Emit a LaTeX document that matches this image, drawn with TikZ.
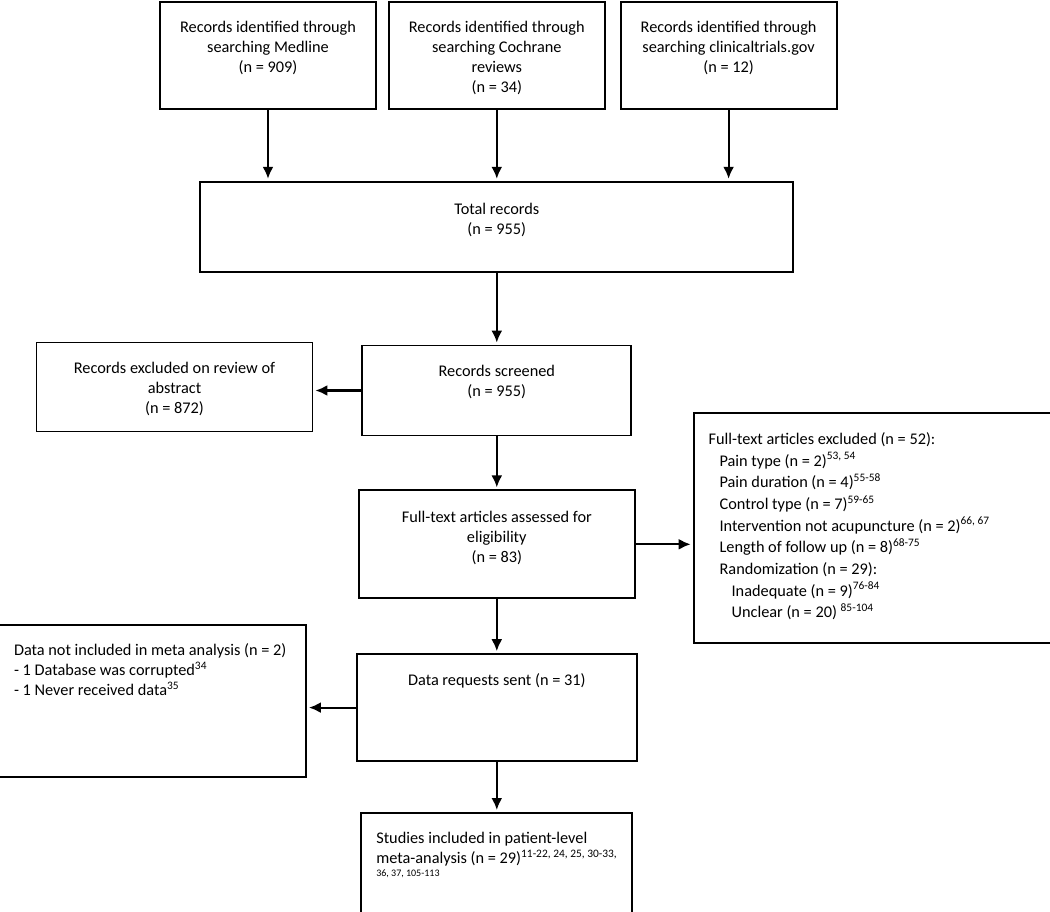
\documentclass[tikz,border=0pt]{standalone}
\usepackage{fontspec}
\setmainfont{Carlito}
\usetikzlibrary{arrows.meta, positioning}

\tikzset{
    box/.style={draw, rectangle, line width=1.8pt, inner xsep=15pt, inner ysep=0pt,
        text height=31pt, align=flush center, font=\fontsize{16.3}{20}\selectfont\frenchspacing},
    listbox/.style={box, align=flush left},
    line/.style={line width=2.2pt, -{Latex[length=12pt, width=11pt]}, shorten >=2pt}
}

\begin{document}
\begin{tikzpicture}[x=1pt, y=1pt, node distance=50pt]
    \useasboundingbox (0,0) rectangle (1050,-912);
    % Sources
    \node[box, anchor=north, text width=186pt, text depth=76pt] (medline) at (268,-1)
        {Records identified through\\searching Medline\\(n = 909)};
    \node[box, right=11pt of medline, text width=186pt, text depth=76pt] (cochrane)
        {Records identified through\\searching Cochrane\\reviews\\(n = 34)};
    \node[box, right=14pt of cochrane, text width=186pt, text depth=76pt] (trials)
        {Records identified through\\searching clinicaltrials.gov\\(n = 12)};

    % Main column
    \node[box, below=71pt of cochrane, text width=563pt, text height=33pt, text depth=57pt] (total)
        {Total records\\(n = 955)};
    \node[box, below=72pt of total, text width=239pt, text depth=59pt] (screened)
        {Records screened\\(n = 955)};
    \node[box, below=53pt of screened, text width=246pt, text height=32pt, text depth=76pt] (assessed)
        {Full-text articles assessed for\\eligibility\\(n = 83)};
    \node[box, below=54pt of assessed, text width=250pt, text depth=76pt] (requests)
        {Data requests sent (n = 31)};
    \node[listbox, below=50pt of requests, text width=241pt, text depth=76pt] (studies)
        {Studies included in patient-level\\
        \mbox{meta-analysis (n = 29)\textsuperscript{11-22, 24, 25, 30-33,}}\\[-7pt]
        {\fontsize{10}{12}\selectfont 36, 37, 105-113}};

    % Exclusions
    \node[box, left=48pt of screened, yshift=3.5pt, text width=246pt, text depth=58pt] (abstract)
        {Records excluded on review of\\abstract\\(n = 872)};
    \node[listbox, right=57pt of assessed, yshift=16pt, text width=329pt, text depth=199pt,
        font=\fontsize{16.3}{21.7}\selectfont\frenchspacing] (fulltext)
        {Full-text articles excluded (n = 52):\\
        \hspace*{11pt}Pain type (n = 2)\textsuperscript{53, 54}\\
        \hspace*{11pt}Pain duration (n = 4)\textsuperscript{55-58}\\
        \hspace*{11pt}Control type (n = 7)\textsuperscript{59-65}\\
        \hspace*{11pt}Intervention not acupuncture (n = 2)\textsuperscript{66, 67}\\
        \hspace*{11pt}Length of follow up (n = 8)\textsuperscript{68-75}\\
        \hspace*{11pt}Randomization (n = 29):\\
        \hspace*{23pt}Inadequate (n = 9)\textsuperscript{76-84}\\
        \hspace*{23pt}Unclear (n = 20) \textsuperscript{85-104}};
    \node[listbox, left=49pt of requests, yshift=7pt, text width=277pt, text depth=121pt] (notincl)
        {Data not included in meta analysis (n = 2)\\
        - 1 Database was corrupted\textsuperscript{34}\\
        - 1 Never received data\textsuperscript{35}};

    % Arrows
    \draw[line] (medline.south) -- (medline.south |- total.north);
    \draw[line] (cochrane.south) -- (cochrane.south |- total.north);
    \draw[line] (trials.south) -- (trials.south |- total.north);
    \draw[line] (total.south) -- (screened.north);
    \draw[line] (screened.west) -- (screened.west -| abstract.east);
    \draw[line] (screened) -- (assessed);
    \draw[line] (assessed.east) -- (assessed.east -| fulltext.west);
    \draw[line] (assessed) -- (requests);
    \draw[line] (requests.west) -- (requests.west -| notincl.east);
    \draw[line] (requests) -- (studies);
\end{tikzpicture}
\end{document}
